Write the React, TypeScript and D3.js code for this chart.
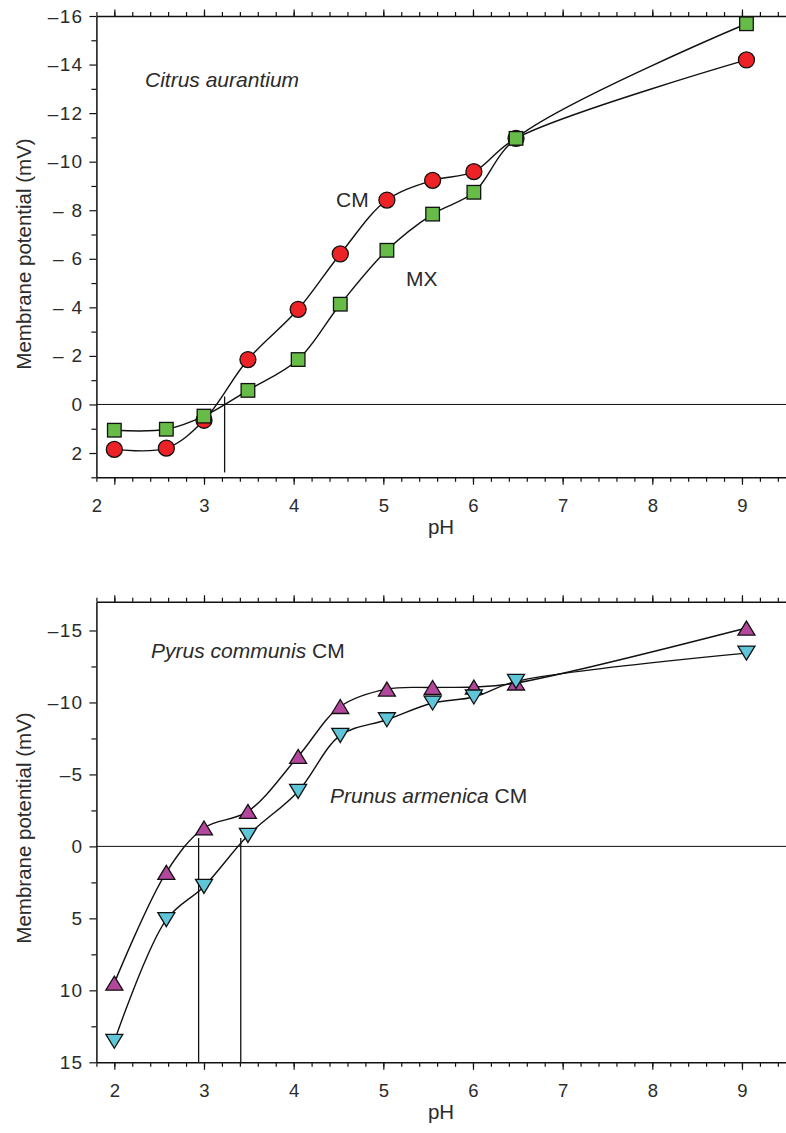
import React, { useRef, useEffect } from 'react';
import * as d3 from 'd3';

// pH values shared by every series
const phValues = [2.0, 2.58, 3.0, 3.49, 4.05, 4.52, 5.04, 5.55, 6.01, 6.48, 9.05];

// top panel, Citrus aurantium
const citrusCM = [1.85, 1.8, 0.65, -1.85, -3.92, -6.2, -8.42, -9.23, -9.59, -10.96, -14.19];
const citrusMX = [1.06, 1.02, 0.48, -0.58, -1.85, -4.13, -6.35, -7.84, -8.74, -10.96, -15.68];

// bottom panel, Pyrus communis / Prunus armenica
const pyrusCM = [9.5, 1.8, -1.28, -2.43, -6.25, -9.72, -10.93, -11.04, -11.07, -11.35, -15.17];
const prunusCM = [13.54, 5.09, 2.78, -0.76, -3.82, -7.71, -8.8, -9.96, -10.38, -11.46, -13.43];

const xTicks = [2, 3, 4, 5, 6, 7, 8, 9];
const citrusYTicks = [-16, -14, -12, -10, -8, -6, -4, -2, 0, 2];
const citrusYLabels = ['\u201316', '\u201314', '\u201312', '\u201310', '\u2013 8', '\u2013 6', '\u2013 4', '\u2013 2', '0', '2'];
const rosYTicks = [-15, -10, -5, 0, 5, 10, 15];
const rosYLabels = ['\u201315', '\u201310', '\u20135', '0', '5', '10', '15'];

// pH of zero crossing and the y span of the marker line
const citrusZero = [{ ph: 3.23, from: -0.33, to: 2.8 }];
const rosZero = [
  { ph: 2.94, from: -0.58, to: 15 },
  { ph: 3.41, from: -0.58, to: 15 },
];

const FONT = 'Liberation Sans, Arial, Helvetica, sans-serif';
const INK = '#2b2b2b';

type Series = { values: number[]; fill: string; shape: string };

function drawPanel(svg, cfg) {
  const x = d3.scaleLinear().domain([1.8, 9.5]).range([96.4, 786.8]);
  const y = d3.scaleLinear().domain(cfg.yDomain).range(cfg.yRange);
  const [top, bottom] = cfg.yRange;
  const g = svg.append('g');

  const minorX = d3.range(9, 48).map(i => i / 5);

  // bottom axis
  const bx = g.append('g').attr('transform', `translate(0,${bottom})`);
  bx.call(d3.axisBottom(x).tickValues(minorX).tickSize(4.5).tickSizeOuter(0).tickFormat(() => ''));
  const bxMajor = g.append('g').attr('transform', `translate(0,${bottom})`);
  bxMajor.call(d3.axisBottom(x).tickValues(xTicks).tickSize(7.5).tickSizeOuter(0).tickFormat(d3.format('d')));
  bxMajor.select('.domain').remove();
  bxMajor.selectAll('text')
    .attr('y', 35).attr('dy', null)
    .attr('dx', d => (cfg.shiftFirstX && d === 2 ? x(1.8) - x(2) : 0))
    .attr('font-size', 18.5);

  // top axis
  const tx = g.append('g').attr('transform', `translate(0,${top})`);
  tx.call(d3.axisTop(x).tickValues(minorX).tickSize(4).tickSizeOuter(0).tickFormat(() => ''));
  const txMajor = g.append('g').attr('transform', `translate(0,${top})`);
  txMajor.call(d3.axisTop(x).tickValues(xTicks).tickSize(6.5).tickSizeOuter(0).tickFormat(() => ''));
  txMajor.select('.domain').remove();

  // left axis
  const ly = g.append('g').attr('transform', `translate(${x(1.8)},0)`);
  ly.call(d3.axisLeft(y).tickValues(cfg.yMinor).tickSize(5).tickSizeOuter(0).tickFormat(() => ''));
  const lyMajor = g.append('g').attr('transform', `translate(${x(1.8)},0)`);
  lyMajor.call(
    d3.axisLeft(y).tickValues(cfg.yTicks).tickSize(7).tickPadding(6).tickSizeOuter(0)
      .tickFormat((d, i) => cfg.yLabels[i])
  );
  lyMajor.select('.domain').remove();
  lyMajor.selectAll('text').attr('font-size', 19).attr('letter-spacing', 1.3);

  g.selectAll('.domain').attr('stroke', '#111').attr('stroke-width', 1.5);
  g.selectAll('.tick line').attr('stroke', '#111').attr('stroke-width', 1.2);
  g.selectAll('.tick text').attr('font-family', FONT).attr('fill', INK);

  // zero line
  g.append('line')
    .attr('x1', x(1.8)).attr('x2', x(9.5))
    .attr('y1', y(0)).attr('y2', y(0))
    .attr('stroke', '#111').attr('stroke-width', 1);

  // zero-crossing drop lines
  g.selectAll('.drop').data(cfg.zero).enter().append('line')
    .attr('x1', d => x(d.ph)).attr('x2', d => x(d.ph))
    .attr('y1', d => y(d.from)).attr('y2', d => y(d.to))
    .attr('stroke', '#111').attr('stroke-width', 1.3);

  const line = d3.line<number>()
    .x((d, i) => x(phValues[i]))
    .y(d => y(d))
    .curve(d3.curveCatmullRom.alpha(0.5));

  cfg.series.forEach((s: Series) => {
    g.append('path')
      .attr('d', line(s.values))
      .attr('fill', 'none').attr('stroke', '#111').attr('stroke-width', 1.4);
  });

  cfg.series.forEach((s: Series) => {
    const pts = g.selectAll(null).data(s.values).enter();
    const px = (i: number) => x(phValues[i]);
    if (s.shape === 'circle') {
      pts.append('circle')
        .attr('cx', (d, i) => px(i)).attr('cy', d => y(d)).attr('r', 8)
        .attr('fill', s.fill).attr('stroke', '#111').attr('stroke-width', 1.3);
    } else if (s.shape === 'square') {
      pts.append('rect')
        .attr('x', (d, i) => px(i) - 6.8).attr('y', d => y(d) - 6.8)
        .attr('width', 13.6).attr('height', 13.6)
        .attr('fill', s.fill).attr('stroke', '#111').attr('stroke-width', 1.3);
    } else {
      const up = s.shape === 'up';
      const w = 8.5, h = 7;
      pts.append('path')
        .attr('d', (d, i) => {
          const cx = px(i), cy = y(d);
          return up
            ? `M${cx},${cy - h}L${cx + w},${cy + h}L${cx - w},${cy + h}Z`
            : `M${cx},${cy + h}L${cx + w},${cy - h}L${cx - w},${cy - h}Z`;
        })
        .attr('fill', s.fill).attr('stroke', '#111').attr('stroke-width', 1.3)
        .attr('stroke-linejoin', 'miter');
    }
  });

  // axis titles
  g.append('text')
    .attr('transform', `translate(31,${cfg.titleY}) rotate(-90)`)
    .attr('text-anchor', 'middle')
    .attr('font-family', FONT).attr('font-size', 20.5).attr('fill', INK)
    .text('Membrane potential (mV)');
  g.append('text')
    .attr('x', 441).attr('y', bottom + 57)
    .attr('text-anchor', 'middle')
    .attr('font-family', FONT).attr('font-size', 20.5).attr('fill', INK)
    .text('pH');

  // annotations
  cfg.notes.forEach(n => {
    const t = g.append('text')
      .attr('x', n.x).attr('y', n.y)
      .attr('font-family', FONT).attr('font-size', 21).attr('fill', INK);
    if (n.italic) t.append('tspan').attr('font-style', 'italic').text(n.italic);
    if (n.plain) t.append('tspan').text(n.plain);
  });
}

const App = () => {
  const svgRef = useRef(null);

  useEffect(() => {
    const svg = d3.select(svgRef.current);
    svg.selectAll('*').remove();

    drawPanel(svg, {
      yDomain: [-16, 3],
      yRange: [16, 477.3],
      yTicks: citrusYTicks,
      yLabels: citrusYLabels,
      yMinor: d3.range(-15, 4, 2),
      zero: citrusZero,
      shiftFirstX: true,
      titleY: 254,
      series: [
        { values: citrusCM, fill: '#ec2227', shape: 'circle' },
        { values: citrusMX, fill: '#67bb47', shape: 'square' },
      ],
      notes: [
        { x: 145, y: 87, italic: 'Citrus aurantium' },
        { x: 336, y: 207, plain: 'CM' },
        { x: 406, y: 286, plain: 'MX' },
      ],
    });

    drawPanel(svg, {
      yDomain: [-17, 15],
      yRange: [601.7, 1062.3],
      yTicks: rosYTicks,
      yLabels: rosYLabels,
      yMinor: [-12.5, -7.5, -2.5, 2.5, 7.5, 12.5],
      zero: rosZero,
      shiftFirstX: false,
      titleY: 828,
      series: [
        { values: pyrusCM, fill: '#b2479c', shape: 'up' },
        { values: prunusCM, fill: '#5fc6d9', shape: 'down' },
      ],
      notes: [
        { x: 151, y: 658, italic: 'Pyrus communis ', plain: 'CM' },
        { x: 330, y: 803, italic: 'Prunus armenica ', plain: 'CM' },
      ],
    });
  }, []);

  return (
    <svg
      ref={svgRef}
      width={786}
      height={1133}
      style={{ position: 'absolute', left: 0, top: 0, background: '#fff' }}
    />
  );
};

export default App;
